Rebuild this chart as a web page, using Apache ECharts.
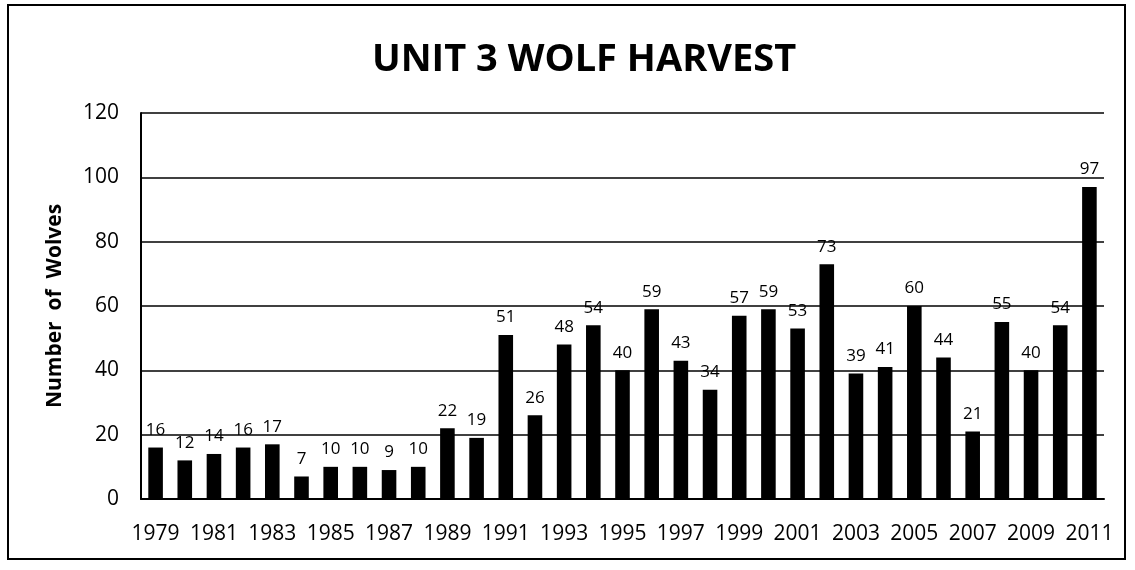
<!DOCTYPE html>
<html>
<head>
<meta charset="utf-8">
<script src="https://cdn.jsdelivr.net/npm/echarts@6/dist/echarts.min.js"></script>
<style>
  html, body { margin: 0; padding: 0; background: #fff; }
  #frame {
    position: absolute; left: 7px; top: 4px; width: 1119px; height: 556px;
    border: 2px solid #000; box-sizing: border-box;
  }
  #chart { position: absolute; left: 0; top: 0; width: 1135px; height: 570px; }
</style>
</head>
<body>
<div id="frame"></div>
<div id="chart"></div>
<script>
// 年份 (categories)
const years = [
  '1979', '1980', '1981', '1982', '1983', '1984', '1985', '1986', '1987', '1988',
  '1989', '1990', '1991', '1992', '1993', '1994', '1995', '1996', '1997', '1998',
  '1999', '2000', '2001', '2002', '2003', '2004', '2005', '2006', '2007', '2008',
  '2009', '2010', '2011',
];
// harvest count per year
const wolves = [
  16, 12, 14, 16, 17, 7, 10, 10, 9, 10,
  22, 19, 51, 26, 48, 54, 40, 59, 43, 34,
  57, 59, 53, 73, 39, 41, 60, 44, 21, 55,
  40, 54, 97,
];

const font = '"Open Sans", "Liberation Sans", sans-serif';
let myChart = echarts.init(document.getElementById('chart'));
myChart.setOption({
  animation: false,
  title: {
    text: 'UNIT 3 WOLF HARVEST',
    left: 367,
    top: 36,
    textStyle: {
      color: '#000',
      fontSize: 38,
      fontWeight: 'bold',
      fontFamily: font,
    },
  },
  grid: {
    left: 141,
    right: 31,
    top: 113,
    bottom: 71,
  },
  xAxis: {
    type: 'category',
    data: years,
    axisLine: { show: true, lineStyle: { color: '#000', width: 2 } },
    axisTick: { show: false },
    axisLabel: {
      interval: 1,
      color: '#000',
      fontSize: 21,
      fontFamily: font,
      margin: 25,
    },
  },
  yAxis: {
    type: 'value',
    min: 0,
    max: 120,
    interval: 20,
    name: 'Number  of  Wolves',
    nameLocation: 'middle',
    nameGap: 75,
    nameTextStyle: {
      color: '#000',
      fontSize: 21,
      fontWeight: 'bold',
      fontFamily: font,
    },
    axisLine: { show: true, lineStyle: { color: '#000', width: 2 } },
    axisTick: { show: false },
    axisLabel: {
      color: '#000',
      fontSize: 21,
      fontFamily: font,
      margin: 22,
    },
    splitLine: { lineStyle: { color: '#000', width: 1.5 } },
  },
  series: [
    {
      type: 'bar',
      data: wolves,
      barWidth: '50%',
      itemStyle: { color: '#000' },
      label: {
        show: true,
        position: 'top',
        distance: 9,
        color: '#000',
        fontSize: 17,
        fontFamily: font,
      },
    },
  ],
});
</script>
</body>
</html>
